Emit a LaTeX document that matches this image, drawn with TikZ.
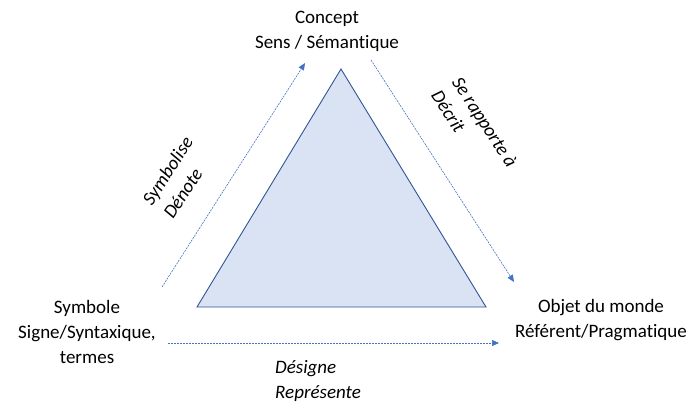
\documentclass[tikz,border=0pt]{standalone}
\usepackage{fontspec}
\setmainfont{Carlito}[Ligatures=NoCommon]
\usetikzlibrary{arrows.meta}
\definecolor{lienbleu}{HTML}{4472C4}
\definecolor{bordbleu}{HTML}{2F5597}
\definecolor{fondbleu}{HTML}{DAE3F3}
\tikzset{
  etiquette/.style={font=\fontsize{19}{25}\selectfont,align=center,inner sep=0pt},
  relation/.style={font=\fontsize{19}{25}\selectfont\itshape,align=left,inner sep=0pt},
  lien/.style={lienbleu,line width=0.6pt,dash pattern=on 2pt off 1pt,-{Triangle[width=6pt,length=7pt]}}
}
\begin{document}
\begin{tikzpicture}[x=1pt,y=-1pt]
\useasboundingbox (0,0) rectangle (688,407);

% Triangle
\coordinate (sommet) at (341,69);
\coordinate (gauche) at (197,307);
\coordinate (droite) at (486,307);
\draw[bordbleu,fill=fondbleu,line width=0.9pt] (sommet) -- (gauche) -- (droite) -- cycle;

% Poles
\node[etiquette] (concept) at (327,31.5) {Concept\\Sens / Sémantique};
\node[etiquette] (symbole) at (87,332) {Symbole\\Signe/Syntaxique,\\termes};
\node[etiquette] (objet) at (601,320.5) {Objet du monde\\Référent/Pragmatique};

% Arrows
\coordinate (sym1) at (162,287);
\coordinate (sym2) at (305,63);
\coordinate (rap1) at (371,60);
\coordinate (rap2) at (514,282);
\coordinate (des1) at (168,343);
\coordinate (des2) at (499,343);
\draw[lien] (sym1) -- (sym2);
\draw[lien] (rap1) -- (rap2);
\draw[lien] (des1) -- (des2);

% Relation labels
\node[relation,rotate=57] (symbolise) at (178,177.5) {Symbolise\\Dénote};
\node[relation,rotate=-57] (rapporte) at (474.5,128.8) {Se rapporte à\\Décrit};
\node[relation,anchor=west] (designe) at (275,380.5) {Désigne\\Représente};
\end{tikzpicture}
\end{document}
